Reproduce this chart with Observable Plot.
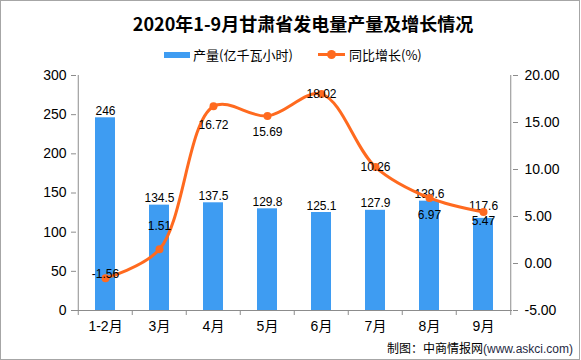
<!DOCTYPE html>
<html>
<head>
<meta charset="utf-8">
<script src="https://cdn.jsdelivr.net/npm/d3@7"></script>
<script src="https://cdn.jsdelivr.net/npm/@observablehq/plot@0.6"></script>
<style>
  body { margin: 0; background: #fff; }
  #chart { position: relative; width: 581px; height: 360px; overflow: hidden; background: #fff;
           font-family: "Liberation Sans", "Noto Sans CJK SC", sans-serif; color: #000; }
  #chart svg { position: absolute; left: 0; top: 0; }
  #border { position: absolute; left: 0; top: 0; width: 580px; height: 360px; box-sizing: border-box;
            border: 1px solid #a6a6a6; pointer-events: none; }
  #title { position: absolute; left: 303px; top: 10px; transform: translateX(-50%); white-space: nowrap;
           font-family: "Noto Sans CJK SC", sans-serif; font-weight: 700; font-size: 18px; line-height: 26px; }
  .lg { position: absolute; }
  .lgtext { position: absolute; top: 45px; font-family: "Noto Sans CJK SC", sans-serif; font-size: 13px; line-height: 19px; white-space: nowrap; }
  #footer { position: absolute; right: 8px; top: 339px; font-size: 12px; line-height: 17px; white-space: nowrap;
            font-family: "Noto Sans CJK SC", sans-serif; }
  #footer span { font-family: "Liberation Sans", sans-serif; color: #1f2a44; }
</style>
</head>
<body>
<div id="chart">
  <div id="title">2020年1-9月甘肃省发电量产量及增长情况</div>
  <div class="lg" style="left:164px;top:52px;width:26px;height:6px;background:#3e9cf2;"></div>
  <div class="lgtext" style="left:193px;">产量(亿千瓦小时)</div>
  <div class="lg" style="left:318px;top:53px;width:27px;height:3px;background:#ff6a1f;"></div>
  <div class="lg" style="left:327px;top:50px;width:9px;height:9px;border-radius:50%;background:#ff6a1f;"></div>
  <div class="lgtext" style="left:349px;">同比增长(%)</div>
  <div id="footer">制图：中商情报网<span>(www.askci.com)</span></div>
  <div id="border"></div>
</div>
<script>
const categories = ["1-2月", "3月", "4月", "5月", "6月", "7月", "8月", "9月"];
const outputValues = [246, 134.5, 137.5, 129.8, 125.1, 127.9, 139.6, 117.6];
const growthValues = [-1.56, 1.51, 16.72, 15.69, 18.02, 10.26, 6.97, 5.47];
const leftTicks = [0, 50, 100, 150, 200, 250, 300];
const rightTicks = [-5, 0, 5, 10, 15, 20];

// label placement (pixels), a style choice
const growthLabelDy = [-4, -23, 19, 16, 0, 0, 17, 9];
const outputLabelDy = [-3, -3, -3, -3, -3, -3, -3, -8];

const W = 581, H = 360, ML = 76, MR = 69, MT = 75, MB = 50;
const step = (W - ML - MR) / categories.length;
const frameH = H - MT - MB;
const BLUE = "#3e9cf2", ORANGE = "#ff6a1f", GRAY = "#8c8c8c";

// right axis (-5..20) mapped onto left axis domain (0..300)
const rMin = -5, rMax = 20, lMax = 300;
const toLeft = v => (v - rMin) / (rMax - rMin) * lMax;
const fromLeft = y => y / lMax * (rMax - rMin) + rMin;

const data = categories.map((c, i) => ({cat: c, out: outputValues[i], g: growthValues[i]}));

const plot = Plot.plot({
  width: W, height: H,
  marginTop: MT, marginBottom: MB, marginLeft: ML, marginRight: MR,
  style: {fontFamily: '"Liberation Sans", "Noto Sans CJK SC", sans-serif', fontSize: "12px", color: "#000", background: "transparent", overflow: "visible"},
  x: {domain: categories, paddingInner: 0.63, paddingOuter: 0.315, axis: null},
  y: {domain: [0, lMax], axis: null},
  marks: [
    Plot.barY(data, {x: "cat", y: "out", fill: BLUE}),
    Plot.ruleY([0], {stroke: GRAY}),
    Plot.ruleX([categories[0]], {x: d => d, dx: -step / 2, stroke: GRAY, insetBottom: -5}),
    Plot.ruleX([categories[categories.length - 1]], {x: d => d, dx: step / 2, stroke: GRAY, insetBottom: -5}),
    Plot.ruleX(categories.slice(1), {x: d => d, dx: -step / 2, stroke: GRAY, insetTop: frameH, insetBottom: -5}),
    Plot.axisY(leftTicks, {anchor: "left", tickSize: 5, tickPadding: 5, stroke: GRAY, fill: "#000", fontSize: 14, label: null}),
    Plot.axisY(rightTicks.map(toLeft), {anchor: "right", tickSize: 5, tickPadding: 7, stroke: GRAY, fill: "#000", fontSize: 14, label: null,
      tickFormat: d => fromLeft(d).toFixed(2)}),
    Plot.axisX({tickSize: 0, tickPadding: 11, fontSize: 14, fill: "#000", label: null}),
    ...data.map((d, i) => Plot.text([d], {x: "cat", y: "out", text: e => String(e.out), dy: outputLabelDy[i], lineAnchor: "bottom", fontSize: 12, fill: "#000"})),
    Plot.line(data, {x: "cat", y: d => toLeft(d.g), stroke: ORANGE, strokeWidth: 3, curve: "catmull-rom"}),
    Plot.dot(data, {x: "cat", y: d => toLeft(d.g), r: 4, fill: ORANGE}),
    ...data.map((d, i) => Plot.text([d], {x: "cat", y: e => toLeft(e.g), text: e => e.g.toFixed(2), dy: growthLabelDy[i], fontSize: 12, fill: "#000"}))
  ]
});
document.getElementById("chart").insertBefore(plot, document.getElementById("title"));
</script>
</body>
</html>
